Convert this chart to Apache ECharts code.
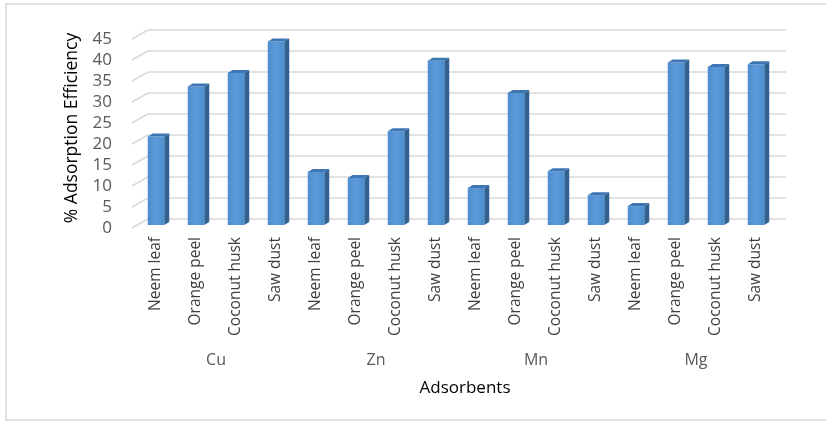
<!DOCTYPE html>
<html>
<head>
<meta charset="utf-8">
<script src="https://cdn.jsdelivr.net/npm/echarts@6/dist/echarts.min.js"></script>
<style>
  html, body { margin: 0; padding: 0; background: #ffffff; }
  #chart { width: 826px; height: 424px; }
</style>
</head>
<body>
<div id="chart"></div>
<script>
// Adsorption efficiency (%) of four low-cost adsorbents for four metal ions
const metals = ['Cu', 'Zn', 'Mn', 'Mg'];
const adsorbents = ['Neem leaf', 'Orange peel', 'Coconut husk', 'Saw dust'];
const cuValues = [21.1, 33.0, 36.2, 43.7];
const znValues = [12.6, 11.2, 22.3, 39.1];
const mnValues = [8.8, 31.4, 12.8, 7.1];
const mgValues = [4.5, 38.7, 37.6, 38.3];
const yTicks = [0, 5, 10, 15, 20, 25, 30, 35, 40, 45];

// flatten into one category per (metal, adsorbent) pair
const seriesByMetal = [cuValues, znValues, mnValues, mgValues];
const categories = [];
const barData = [];
metals.forEach(function (m, mi) {
  adsorbents.forEach(function (a, ai) {
    categories.push(a);
    barData.push([categories.length - 1, seriesByMetal[mi][ai]]);
  });
});

const FONT = 'Open Sans';
const BAR_W = 16.5, DEPTH_X = 5, DEPTH_Y = 3;

// 3D-looking column: front face, right side face and top face
function renderColumn(params, api) {
  const idx = api.value(0);
  const v = api.value(1);
  const top = api.coord([idx, v]);
  const base = api.coord([idx, 0]);
  const l = top[0] - BAR_W / 2, r = top[0] + BAR_W / 2;
  return {
    type: 'group',
    children: [
      { type: 'polygon', shape: { points: [[r, top[1]], [r + DEPTH_X, top[1] - DEPTH_Y], [r + DEPTH_X, base[1] - DEPTH_Y], [r, base[1]]] },
        style: { fill: '#31628f' } },
      { type: 'rect', shape: { x: l, y: top[1], width: BAR_W, height: base[1] - top[1] },
        style: { fill: new echarts.graphic.LinearGradient(0, 0, 1, 0, [
          { offset: 0, color: '#4c8bcf' }, { offset: 0.5, color: '#5b9bd9' }, { offset: 1, color: '#4f8ed0' }]) } },
      { type: 'polygon', shape: { points: [[l, top[1]], [l + DEPTH_X, top[1] - DEPTH_Y], [r + DEPTH_X, top[1] - DEPTH_Y], [r, top[1]]] },
        style: { fill: '#3d76b3' } }
    ]
  };
}

// short slanted lines joining the front tick labels to the back wall grid lines
function renderFloorEdge(params, api) {
  const p = api.coord([0, api.value(0)]);
  return {
    type: 'line',
    shape: { x1: p[0], y1: p[1], x2: p[0] + 16, y2: p[1] - 9 },
    style: { stroke: '#d9d9d9', lineWidth: 1.5 }
  };
}

const chart = echarts.init(document.getElementById('chart'), null, { renderer: 'canvas' });
chart.setOption({
  backgroundColor: '#ffffff',
  animation: false,
  grid: [
    { left: 136, right: 50, top: 36, bottom: 199 },   // columns
    { left: 148, right: 40, top: 30, bottom: 205 },   // back wall
    { left: 132, right: 40, top: 39, bottom: 196 }    // front edge with tick labels
  ],
  xAxis: [
    { type: 'category', gridIndex: 0, data: categories,
      axisLine: { show: false }, axisTick: { show: false },
      axisLabel: { interval: 0, rotate: 90, margin: 12, fontFamily: FONT, fontSize: 15.5, color: '#404040' } },
    { type: 'category', gridIndex: 0, data: metals, position: 'bottom',
      axisLine: { show: false }, axisTick: { show: false },
      axisLabel: { interval: 0, margin: 127, fontFamily: FONT, fontSize: 16, color: '#595959' } },
    { type: 'value', gridIndex: 1, show: false, min: 0, max: 1 },
    { type: 'value', gridIndex: 2, show: false, min: 0, max: 1 }
  ],
  yAxis: [
    { type: 'value', gridIndex: 0, min: 0, max: 45, interval: 5, show: false },
    { type: 'value', gridIndex: 1, min: 0, max: 45, interval: 5,
      axisLine: { show: false }, axisTick: { show: false }, axisLabel: { show: false },
      splitLine: { lineStyle: { color: '#d9d9d9', width: 1.5 } } },
    { type: 'value', gridIndex: 2, min: 0, max: 45, interval: 5,
      axisLine: { show: false }, axisTick: { show: false }, splitLine: { show: false },
      axisLabel: { margin: 20, fontFamily: FONT, fontSize: 17, color: '#595959' } }
  ],
  series: [
    { type: 'custom', xAxisIndex: 3, yAxisIndex: 2, data: yTicks.map(function (t) { return [t]; }),
      encode: { y: 0 }, renderItem: renderFloorEdge, silent: true },
    { type: 'custom', xAxisIndex: 0, yAxisIndex: 0, data: barData,
      encode: { x: 0, y: 1 }, renderItem: renderColumn }
  ],
  graphic: [
    { type: 'rect', z: -10, shape: { x: 6, y: 4, width: 830, height: 416 },
      style: { fill: 'none', stroke: '#d9d9d9', lineWidth: 1.5 } },
    { type: 'text', x: 72, y: 128, rotation: Math.PI / 2,
      style: { text: '% Adsorption Efficiency', fontFamily: FONT, fontSize: 17.5, fill: '#000000',
        align: 'center', verticalAlign: 'middle' } },
    { type: 'text', x: 465, y: 388,
      style: { text: 'Adsorbents', fontFamily: FONT, fontSize: 17, fill: '#000000',
        align: 'center', verticalAlign: 'middle' } }
  ]
});
</script>
</body>
</html>
